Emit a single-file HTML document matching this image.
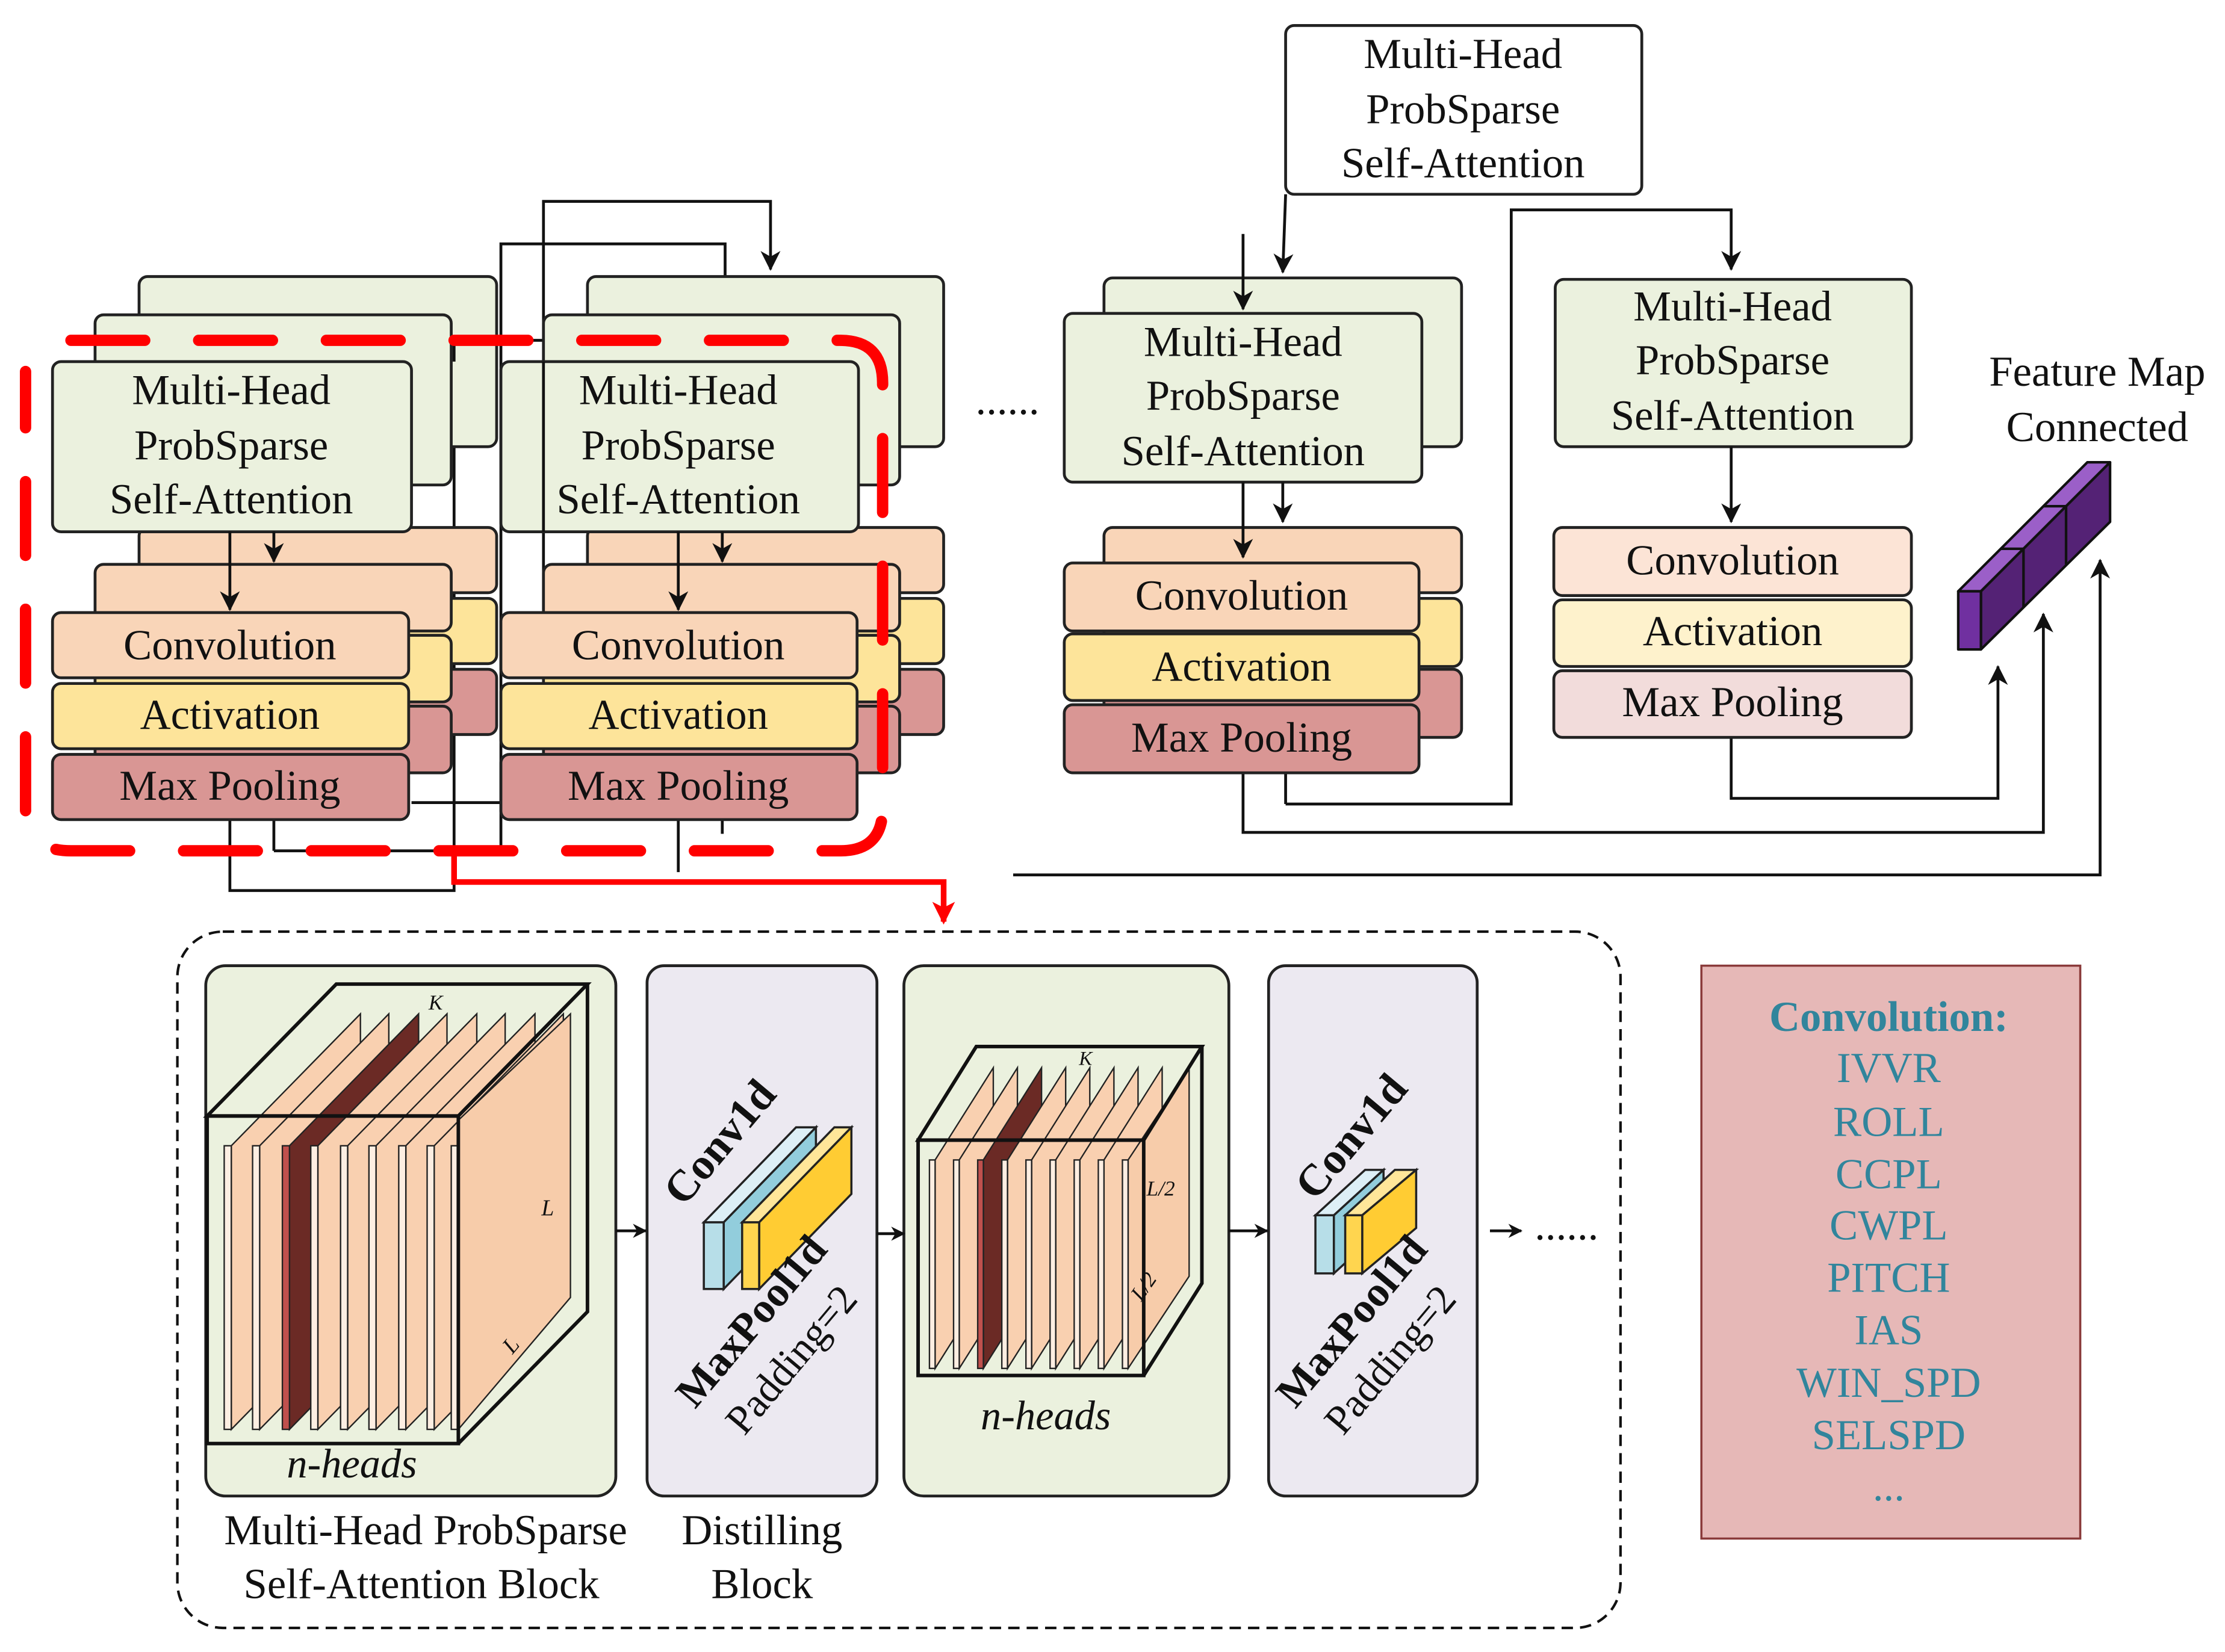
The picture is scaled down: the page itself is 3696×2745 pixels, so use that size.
<!DOCTYPE html>
<html><head><meta charset="utf-8"><style>
html,body{margin:0;padding:0;background:#fff;}
svg{display:block;}
text{font-family:"Liberation Serif",serif;}
</style></head><body>
<svg width="3696" height="2745" viewBox="0 0 1568 1165" preserveAspectRatio="none" xmlns="http://www.w3.org/2000/svg">
<defs>
<marker id="ah" markerWidth="10" markerHeight="10" refX="9" refY="5" orient="auto" markerUnits="userSpaceOnUse"><path d="M0,0 L10,5 L0,10 L3,5 Z" fill="#111"/></marker>
<marker id="ahs" markerWidth="14" markerHeight="14" refX="13" refY="7" orient="auto" markerUnits="userSpaceOnUse"><path d="M0,0 L14,7 L0,14 L4,7 Z" fill="#111"/></marker>
<marker id="ahr" markerWidth="16" markerHeight="16" refX="14" refY="8" orient="auto" markerUnits="userSpaceOnUse"><path d="M0,0 L16,8 L0,16 L4,8 Z" fill="#f00"/></marker>
</defs>
<g fill="none" stroke="#111" stroke-width="2">
<polyline points="383,430 383,142 543,142 543,190" marker-end="url(#ahs)"/>
<polyline points="193,600 353,600 353,172 511,172 511,218" marker-end="url(#ahs)"/>
<polyline points="162,578 162,628 320,628 320,240 478,240 478,256"/>
<line x1="290" y1="566" x2="353" y2="566"/>
<line x1="478" y1="578" x2="478" y2="615"/>
<line x1="509" y1="545" x2="509" y2="588"/>
<line x1="193" y1="545" x2="193" y2="600"/>
</g>
<g stroke="#222" stroke-width="2">
<rect x="98" y="195" width="252" height="120" rx="6" fill="#EBF1DE"/>
<rect x="98" y="372" width="252" height="46" rx="6" fill="#F9D5B8"/>
<rect x="98" y="422" width="252" height="46" rx="6" fill="#FDE49A"/>
<rect x="98" y="472" width="252" height="46" rx="6" fill="#D99694"/>
<rect x="67" y="222" width="251" height="120" rx="6" fill="#EBF1DE"/>
<rect x="67" y="398" width="251" height="47" rx="6" fill="#F9D5B8"/>
<rect x="67" y="448" width="251" height="47" rx="6" fill="#FDE49A"/>
<rect x="67" y="498" width="251" height="47" rx="6" fill="#D99694"/>
<rect x="37" y="255" width="253" height="120" rx="6" fill="#EBF1DE"/>
<rect x="37" y="432" width="251" height="46" rx="6" fill="#F9D5B8"/>
<rect x="37" y="482" width="251" height="46" rx="6" fill="#FDE49A"/>
<rect x="37" y="532" width="251" height="46" rx="6" fill="#D99694"/>
<rect x="414" y="195" width="251" height="120" rx="6" fill="#EBF1DE"/>
<rect x="414" y="372" width="251" height="46" rx="6" fill="#F9D5B8"/>
<rect x="414" y="422" width="251" height="46" rx="6" fill="#FDE49A"/>
<rect x="414" y="472" width="251" height="46" rx="6" fill="#D99694"/>
<rect x="383" y="222" width="251" height="120" rx="6" fill="#EBF1DE"/>
<rect x="383" y="398" width="251" height="47" rx="6" fill="#F9D5B8"/>
<rect x="383" y="448" width="251" height="47" rx="6" fill="#FDE49A"/>
<rect x="383" y="498" width="251" height="47" rx="6" fill="#D99694"/>
<rect x="353" y="255" width="252" height="120" rx="6" fill="#EBF1DE"/>
<rect x="353" y="432" width="251" height="46" rx="6" fill="#F9D5B8"/>
<rect x="353" y="482" width="251" height="46" rx="6" fill="#FDE49A"/>
<rect x="353" y="532" width="251" height="46" rx="6" fill="#D99694"/>
</g>
<line x1="320" y1="240" x2="320" y2="255" stroke="#111" stroke-width="2"/>
<line x1="383" y1="255" x2="383" y2="375" stroke="#111" stroke-width="2"/>
<g fill="none" stroke="#111" stroke-width="2">
<line x1="162" y1="375" x2="162" y2="430" marker-end="url(#ahs)"/>
<line x1="193" y1="375" x2="193" y2="396" marker-end="url(#ahs)"/>
<line x1="478" y1="375" x2="478" y2="430" marker-end="url(#ahs)"/>
<line x1="509" y1="375" x2="509" y2="396" marker-end="url(#ahs)"/>
</g>
<g font-size="30" text-anchor="middle" fill="#111">
<text x="163" y="285">Multi-Head</text><text x="163" y="324">ProbSparse</text><text x="163" y="362">Self-Attention</text>
<text x="162" y="465">Convolution</text><text x="162" y="514">Activation</text><text x="162" y="564">Max Pooling</text>
<text x="478" y="285">Multi-Head</text><text x="478" y="324">ProbSparse</text><text x="478" y="362">Self-Attention</text>
<text x="478" y="465">Convolution</text><text x="478" y="514">Activation</text><text x="478" y="564">Max Pooling</text>
</g>
<path d="M50,240 L592,240 Q622,240 622,270 L622,570 Q622,600 592,600 L50,600 Q18,600 18,570 L18,262" fill="none" stroke="#f00" stroke-width="8" stroke-dasharray="52,38" stroke-linecap="round"/>
<polyline points="320,600 320,622 665,622 665,650" fill="none" stroke="#f00" stroke-width="4" marker-end="url(#ahr)"/>
<text x="710" y="292" font-size="30" text-anchor="middle" fill="#111">......</text>

<g fill="none" stroke="#111" stroke-width="2">
<polyline points="906,567 1065,567 1065,148 1220,148 1220,190" marker-end="url(#ahs)"/>
<line x1="906" y1="520" x2="906" y2="567"/>
<polyline points="876,545 876,587 1440,587 1440,433" marker-end="url(#ahs)"/>
<polyline points="1220,520 1220,563 1408,563 1408,470" marker-end="url(#ahs)"/>
<polyline points="714,617 1480,617 1480,395" marker-end="url(#ahs)"/>
<line x1="906" y1="137" x2="904" y2="192" marker-end="url(#ahs)"/>
</g>
<g stroke="#222" stroke-width="2">
<rect x="906" y="18" width="251" height="119" rx="6" fill="#fff"/>
<rect x="778" y="196" width="252" height="119" rx="6" fill="#EBF1DE"/>
<rect x="778" y="372" width="252" height="46" rx="6" fill="#F9D5B8"/>
<rect x="778" y="422" width="252" height="48" rx="6" fill="#FDE49A"/>
<rect x="778" y="472" width="252" height="48" rx="6" fill="#D99694"/>
<rect x="750" y="221" width="252" height="119" rx="6" fill="#EBF1DE"/>
<rect x="750" y="397" width="250" height="48" rx="6" fill="#F9D5B8"/>
<rect x="750" y="447" width="250" height="47" rx="6" fill="#FDE49A"/>
<rect x="750" y="497" width="250" height="48" rx="6" fill="#D99694"/>
<rect x="1096" y="197" width="251" height="118" rx="6" fill="#EBF1DE"/>
<rect x="1095" y="372" width="252" height="48" rx="6" fill="#FCE4D6"/>
<rect x="1095" y="423" width="252" height="47" rx="6" fill="#FEF2CC"/>
<rect x="1095" y="473" width="252" height="47" rx="6" fill="#F2DCDB"/>
</g>
<g fill="none" stroke="#111" stroke-width="2">
<line x1="876" y1="165" x2="876" y2="218" marker-end="url(#ahs)"/>
<line x1="876" y1="340" x2="876" y2="393" marker-end="url(#ahs)"/>
<line x1="904" y1="340" x2="904" y2="368" marker-end="url(#ahs)"/>
<line x1="1220" y1="315" x2="1220" y2="368" marker-end="url(#ahs)"/>
</g>
<g font-size="30" text-anchor="middle" fill="#111">
<text x="1031" y="48">Multi-Head</text><text x="1031" y="87">ProbSparse</text><text x="1031" y="125">Self-Attention</text>
<text x="876" y="251">Multi-Head</text><text x="876" y="289">ProbSparse</text><text x="876" y="328">Self-Attention</text>
<text x="875" y="430">Convolution</text><text x="875" y="480">Activation</text><text x="875" y="530">Max Pooling</text>
<text x="1221" y="226">Multi-Head</text><text x="1221" y="264">ProbSparse</text><text x="1221" y="303">Self-Attention</text>
<text x="1221" y="405">Convolution</text><text x="1221" y="455">Activation</text><text x="1221" y="505">Max Pooling</text>
<text x="1478" y="272">Feature Map</text><text x="1478" y="311">Connected</text>
</g>
<!-- feature map bar -->
<g stroke="#111" stroke-width="1.8" stroke-linejoin="round">
<polygon points="1380,417 1471,326 1487,326 1396,417" fill="#9B5FC8"/>
<polygon points="1396,417 1487,326 1487,368 1396,458" fill="#542275"/>
<rect x="1380" y="417" width="16" height="41" fill="#7030A0"/>
<line x1="1426" y1="387" x2="1426" y2="428"/><line x1="1426" y1="387" x2="1410" y2="387"/>
<line x1="1456" y1="357" x2="1456" y2="398"/><line x1="1456" y1="357" x2="1440" y2="357"/>
</g>

<rect x="125" y="657" width="1017" height="491" rx="32" fill="none" stroke="#111" stroke-width="1.8" stroke-dasharray="8,5"/>
<g stroke="#222" stroke-width="2">
<rect x="145" y="681" width="289" height="374" rx="14" fill="#EBF1DE"/>
<rect x="456" y="681" width="162" height="374" rx="12" fill="#ECE9F1"/>
<rect x="637" y="681" width="229" height="374" rx="14" fill="#EBF1DE"/>
<rect x="894" y="681" width="147" height="374" rx="12" fill="#ECE9F1"/>
</g>
<g fill="none" stroke="#111" stroke-width="2">
<line x1="434" y1="868" x2="455" y2="868" marker-end="url(#ah)"/>
<line x1="618" y1="870" x2="637" y2="870" marker-end="url(#ah)"/>
<line x1="866" y1="868" x2="893" y2="868" marker-end="url(#ah)"/>
<line x1="1050" y1="868" x2="1072" y2="868" marker-end="url(#ah)"/>
</g>
<text x="1104" y="874" font-size="30" text-anchor="middle" fill="#111">......</text>

<g stroke="#222" stroke-width="1">
<polygon points="163,808 254,715 254,915 163,1008" fill="#F9D0B0"/><rect x="158" y="808" width="5" height="200" fill="#FDEEE2"/>
<polygon points="183,808 274,715 274,915 183,1008" fill="#F9D0B0"/><rect x="178" y="808" width="5" height="200" fill="#FDEEE2"/>
<polygon points="204,808 295,715 295,915 204,1008" fill="#6B2A25"/><rect x="199" y="808" width="5" height="200" fill="#C0504D"/>
<polygon points="224,808 315,715 315,915 224,1008" fill="#F9D0B0"/><rect x="219" y="808" width="5" height="200" fill="#FDEEE2"/>
<polygon points="245,808 336,715 336,915 245,1008" fill="#F9D0B0"/><rect x="240" y="808" width="5" height="200" fill="#FDEEE2"/>
<polygon points="265,808 356,715 356,915 265,1008" fill="#F9D0B0"/><rect x="260" y="808" width="5" height="200" fill="#FDEEE2"/>
<polygon points="286,808 377,715 377,915 286,1008" fill="#F9D0B0"/><rect x="281" y="808" width="5" height="200" fill="#FDEEE2"/>
<polygon points="306,808 397,715 397,915 306,1008" fill="#F9D0B0"/><rect x="301" y="808" width="5" height="200" fill="#FDEEE2"/>
<polygon points="323,790 402,715 402,915 323,1008" fill="#F7CCAA"/><rect x="318" y="808" width="5" height="200" fill="#FDEEE2"/>
</g>
<g fill="none" stroke="#111" stroke-width="2.5">
<polygon points="146,787 237,694 414,694 323,787"/>
<rect x="146" y="787" width="177" height="231"/>
<polyline points="414,694 414,925 323,1018"/>
</g>
<g font-style="italic" fill="#111" text-anchor="middle">
<text x="307" y="712" font-size="15">K</text>
<text x="386" y="857" font-size="16">L</text>
<text x="364" y="952" font-size="16" transform="rotate(-50 364 952)">L</text>
<text x="248" y="1042" font-size="29">n-heads</text>
</g>

<g stroke="#222" stroke-width="1">
<polygon points="659,818 700,753 700,900 659,965" fill="#F9D0B0"/><rect x="655" y="818" width="4" height="147" fill="#FDEEE2"/>
<polygon points="676,818 717,753 717,900 676,965" fill="#F9D0B0"/><rect x="672" y="818" width="4" height="147" fill="#FDEEE2"/>
<polygon points="693,818 734,753 734,900 693,965" fill="#6B2A25"/><rect x="689" y="818" width="4" height="147" fill="#C0504D"/>
<polygon points="710,818 751,753 751,900 710,965" fill="#F9D0B0"/><rect x="706" y="818" width="4" height="147" fill="#FDEEE2"/>
<polygon points="727,818 768,753 768,900 727,965" fill="#F9D0B0"/><rect x="723" y="818" width="4" height="147" fill="#FDEEE2"/>
<polygon points="744,818 785,753 785,900 744,965" fill="#F9D0B0"/><rect x="740" y="818" width="4" height="147" fill="#FDEEE2"/>
<polygon points="761,818 802,753 802,900 761,965" fill="#F9D0B0"/><rect x="757" y="818" width="4" height="147" fill="#FDEEE2"/>
<polygon points="778,818 819,753 819,900 778,965" fill="#F9D0B0"/><rect x="774" y="818" width="4" height="147" fill="#FDEEE2"/>
<polygon points="795,818 838,753 838,900 795,965" fill="#F7CCAA"/><rect x="791" y="818" width="4" height="147" fill="#FDEEE2"/>
</g>
<g fill="none" stroke="#111" stroke-width="2.5">
<polygon points="647,804 688,738 847,738 806,804"/>
<rect x="647" y="804" width="159" height="166"/>
<polyline points="847,738 847,905 806,970"/>
</g>
<g font-style="italic" fill="#111" text-anchor="middle">
<text x="765" y="751" font-size="14">K</text>
<text x="818" y="843" font-size="15">L/2</text>
<text x="810" y="910" font-size="15" transform="rotate(-55 810 910)">L/2</text>
<text x="737" y="1008" font-size="29">n-heads</text>
</g>

<g stroke="#222" stroke-width="1.5">
<polygon points="496,862 561,795 575,795 510,862" fill="#DDEFF6"/>
<polygon points="510,862 575,795 575,842 510,909" fill="#92CDDC"/>
<rect x="496" y="862" width="14" height="47" fill="#B7DEE8"/>
<polygon points="523,862 588,795 600,795 535,862" fill="#FFE699"/>
<polygon points="535,862 600,795 600,842 535,909" fill="#FFCC33"/>
<rect x="523" y="862" width="12" height="47" fill="#FFD54F"/>
</g>
<g fill="#111" text-anchor="middle">
<text x="515" y="812" font-size="31" font-weight="bold" transform="rotate(-50 515 812)">Conv1d</text>
<text x="537" y="938" font-size="30" font-weight="bold" transform="rotate(-50 537 938)">MaxPool1d</text>
<text x="565" y="965" font-size="29" transform="rotate(-50 565 965)">Padding=2</text>
</g>
<g stroke="#222" stroke-width="1.5">
<polygon points="927,857 962,825 975,825 940,857" fill="#DDEFF6"/>
<polygon points="940,857 975,825 975,866 940,898" fill="#92CDDC"/>
<rect x="927" y="857" width="13" height="41" fill="#B7DEE8"/>
<polygon points="948,857 983,825 998,825 960,857" fill="#FFE699"/>
<polygon points="960,857 998,825 998,866 960,898" fill="#FFCC33"/>
<rect x="948" y="857" width="12" height="41" fill="#FFD54F"/>
</g>
<g fill="#111" text-anchor="middle">
<text x="960" y="808" font-size="31" font-weight="bold" transform="rotate(-50 960 808)">Conv1d</text>
<text x="960" y="938" font-size="30" font-weight="bold" transform="rotate(-50 960 938)">MaxPool1d</text>
<text x="987" y="965" font-size="29" transform="rotate(-50 987 965)">Padding=2</text>
</g>
<g font-size="30" text-anchor="middle" fill="#111">
<text x="300" y="1089">Multi-Head ProbSparse</text><text x="297" y="1127">Self-Attention Block</text>
<text x="537" y="1089">Distilling</text><text x="537" y="1127">Block</text>
</g>

<rect x="1199" y="681" width="267" height="404" fill="#E6B8B7" stroke="#8a3a3a" stroke-width="1.5"/>
<g font-size="30" text-anchor="middle" fill="#31859C">
<text x="1331" y="727" font-weight="bold">Convolution:</text>
<text x="1331" y="763">IVVR</text><text x="1331" y="801">ROLL</text><text x="1331" y="838">CCPL</text>
<text x="1331" y="874">CWPL</text><text x="1331" y="911">PITCH</text><text x="1331" y="948">IAS</text>
<text x="1331" y="985">WIN_SPD</text><text x="1331" y="1022">SELSPD</text><text x="1331" y="1058">...</text>
</g>
</svg>
</body></html>
